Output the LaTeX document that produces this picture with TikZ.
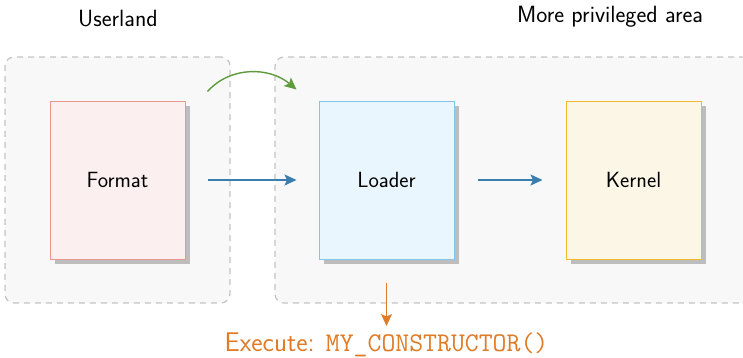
\documentclass[tikz,border=0pt]{standalone}
\usetikzlibrary{arrows.meta,shadows,calc}
\definecolor{regfill}{HTML}{F8F8F8}
\definecolor{regdraw}{HTML}{C4C4C4}
\definecolor{shadowgray}{HTML}{BDBDBD}
\definecolor{fmtfill}{HTML}{FBF0EF}
\definecolor{fmtdraw}{HTML}{E8998D}
\definecolor{ldrfill}{HTML}{EAF6FD}
\definecolor{ldrdraw}{HTML}{7EC6EE}
\definecolor{krnfill}{HTML}{FCF6E6}
\definecolor{krndraw}{HTML}{F0B82D}
\definecolor{flowblue}{HTML}{3A7EB0}
\definecolor{flowgreen}{HTML}{5F9B3C}
\definecolor{floworange}{HTML}{E07B28}
\tikzset{
  region/.style={draw=regdraw, fill=regfill, dashed, dash pattern=on 6pt off 5pt, line width=1.2pt, rounded corners=9pt, inner sep=0pt},
  stagebox/.style={minimum width=135pt, minimum height=158pt, line width=1pt, inner sep=0pt,
    font=\sffamily\fontsize{22}{26}\selectfont,
    drop shadow={shadow xshift=5pt, shadow yshift=-5pt, fill=shadowgray, opacity=1}},
  toplabel/.style={font=\sffamily\fontsize{23.5}{28}\selectfont, text=black},
  flow/.style={line width=1.4pt, -{Stealth[length=12pt,width=11pt,inset=2.5pt]}},
}
\begin{document}
\begin{tikzpicture}[x=1pt,y=-1pt]
\useasboundingbox (0,0) rectangle (743,357);
\clip (0,0) rectangle (743,357);
\fill[white] (0,0) rectangle (743,357);
% regions
\node[region, minimum width=225pt, minimum height=246pt] (user) at (117.5,180) {};
\node[region, minimum width=490pt, minimum height=246pt] (priv) at (520,180) {};
\node[toplabel] (userlbl) at (118,19) {Userland};
\node[toplabel] (privlbl) at (610,17) {More privileged area};
% boxes
\node[stagebox, draw=fmtdraw, fill=fmtfill] (format) at (117.5,180) {Format};
\node[stagebox, draw=ldrdraw, fill=ldrfill] (loader) at (386.5,180) {Loader};
\node[stagebox, draw=krndraw, fill=krnfill] (kernel) at (633.5,180) {Kernel};
% arrows
\draw[flow, draw=flowblue, shorten <=22pt, shorten >=22pt] (format.east) -- (loader.west);
\draw[flow, draw=flowblue, shorten <=23pt, shorten >=23pt] (loader.east) -- (kernel.west);
\coordinate (gstart) at ($(format.north east)+(22,-9)$);
\coordinate (gend) at ($(loader.north west)+(-22,-11)$);
\draw[flow, draw=flowgreen] (gstart) to[out=48,in=140] (gend);
\node[font=\sffamily\fontsize{27}{32}\selectfont, text=floworange, anchor=north] (exec) at (386.5,329) {Execute: \texttt{MY\_CONSTRUCTOR()}};
\draw[flow, draw=floworange, shorten <=23pt, shorten >=3pt] (loader.south) -- (exec.north);
\end{tikzpicture}
\end{document}
